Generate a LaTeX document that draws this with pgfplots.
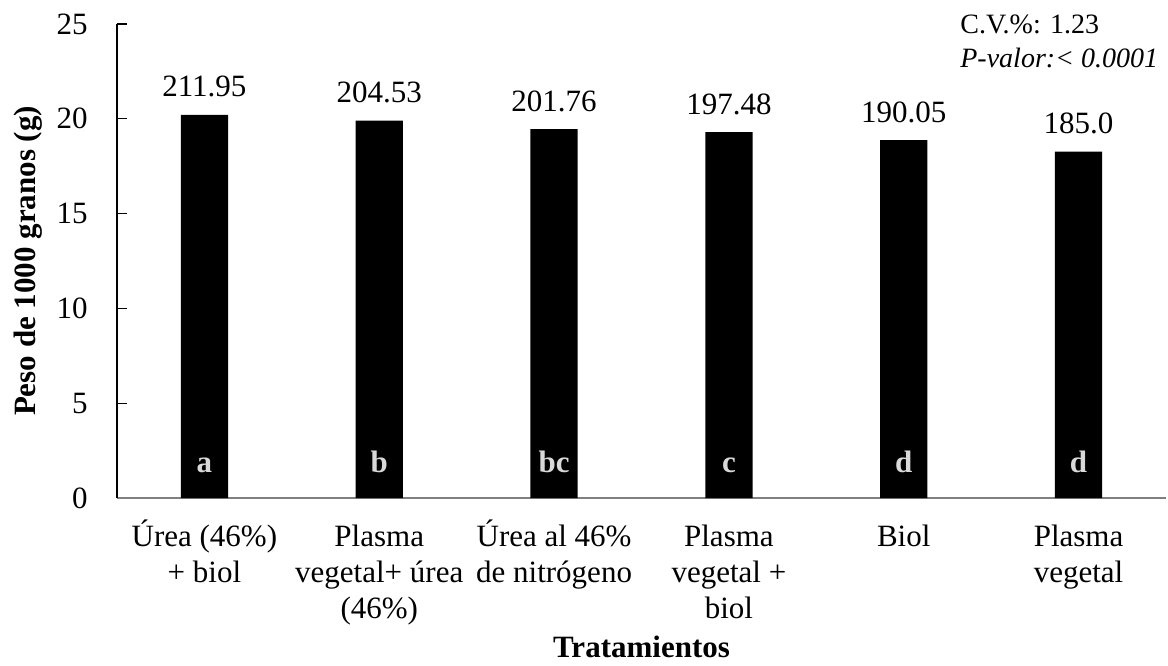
\documentclass[border=0pt]{standalone}
\usepackage{fontspec}
\setmainfont{Liberation Serif}
\usepackage{pgfplots}
\pgfplotsset{compat=1.18}
\definecolor{lettergray}{HTML}{D9D9D9}
\definecolor{axisgray}{HTML}{808080}
\begin{document}
\fontsize{15.5}{18}\selectfont
\begin{tikzpicture}
\useasboundingbox (-58.5pt,-83.5pt) rectangle (525.5pt,249pt);
\begin{axis}[
  at={(0pt,0pt)}, anchor=south west,
  scale only axis, width=524.5pt, height=237pt,
  xmin=-0.5, xmax=5.5, ymin=0, ymax=25,
  axis x line*=bottom, axis y line*=left,
  x axis line style={axisgray, line width=1pt, -},
  y axis line style={black, line width=0.6pt, -},
  xtick={0,1,2,3,4,5},
  xticklabels={{\rule{0pt}{15pt}Úrea (46\%)\\+ biol},
               {\rule{0pt}{15pt}Plasma\\vegetal+ úrea\\(46\%)},
               {\rule{0pt}{15pt}Úrea al 46\%\\de nitrógeno},
               {\rule{0pt}{15pt}Plasma\\vegetal +\\biol},
               {\rule{0pt}{15pt}Biol},
               {\rule{0pt}{15pt}Plasma\\vegetal}},
  xtick style={draw=none},
  ytick={0,5,10,15,20,25},
  ytick style={black, line width=0.6pt},
  tick align=inside, major tick length=5pt,
  yticklabel style={anchor=east, inner sep=0pt, xshift=-14.5pt},
  xticklabel style={align=center, anchor=north, inner sep=0pt, yshift=-9pt},
  /pgf/number format/assume math mode=true,
  ylabel={\textbf{Peso de 1000 granos (g)}},
  ylabel style={at={(axis description cs:-0.0848,0.5)}, anchor=center},
  xlabel={\textbf{Tratamientos}},
  xlabel style={at={(axis description cs:0.5,0)}, anchor=base, inner sep=0pt, yshift=-79.5pt},
  clip=false,
]
\addplot[ybar, bar width=0.27, bar shift=0pt, fill=black, draw=none]
  coordinates {(0,20.21) (1,19.91) (2,19.45) (3,19.30) (4,18.88) (5,18.27)};
\addplot[draw=none, mark=none, nodes near coords, point meta=explicit symbolic,
  nodes near coords style={anchor=base, yshift=9pt, text=black}]
  coordinates {(0,20.21)[211.95] (1,19.91)[204.53] (2,19.45)[201.76] (3,19.30)[197.48] (4,18.88)[190.05] (5,18.27)[185.0]};
\addplot[draw=none, mark=none, nodes near coords, point meta=explicit symbolic,
  nodes near coords style={anchor=base, text=lettergray, font=\bfseries}]
  coordinates {(0,1.32)[a] (1,1.32)[b] (2,1.32)[bc] (3,1.32)[c] (4,1.32)[d] (5,1.32)[d]};
\node[anchor=base west, inner sep=0pt, font=\fontsize{14}{16}\selectfont] at (rel axis cs:0.8036,0.981) {C.V.\%: 1.23};
\node[anchor=base west, inner sep=0pt, font=\fontsize{14}{16}\selectfont\itshape] at (rel axis cs:0.8036,0.909) {P-valor:< 0.0001};
\end{axis}
\end{tikzpicture}
\end{document}
